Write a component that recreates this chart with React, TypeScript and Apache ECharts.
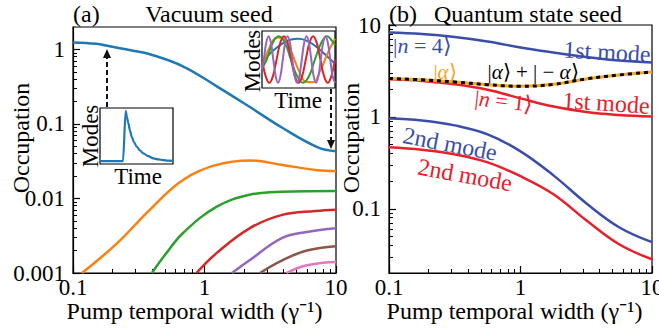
import React, { useEffect, useRef } from 'react';
import * as echarts from 'echarts';

// ---------- (a) Vacuum seed: occupation of modes 1..7 ----------
const vacX1 = [0.1, 0.15, 0.19, 0.28, 0.385, 0.69, 1.24, 2.2, 3.9, 7.2, 10];
const vacMode1 = [1.24, 1.19, 1.1, 0.97, 0.86, 0.59, 0.32, 0.17, 0.089, 0.049, 0.043];
const vacX2 = [0.117, 0.216, 0.385, 0.69, 1.24, 2.2, 3.9, 7.2, 10];
const vacMode2 = [0.001, 0.0025, 0.0071, 0.0178, 0.0282, 0.0324, 0.0282, 0.024, 0.0234];
const vacX3 = [0.398, 0.5, 0.69, 1.24, 2.2, 3.9, 10];
const vacMode3 = [0.001, 0.00174, 0.00347, 0.00776, 0.0112, 0.0123, 0.0126];
const vacX4 = [0.87, 1.24, 2.2, 3.9, 7, 10];
const vacMode4 = [0.001, 0.00186, 0.00398, 0.00603, 0.0068, 0.00708];
const vacX5 = [1.62, 2.2, 3.9, 6, 10];
const vacMode5 = [0.001, 0.00148, 0.00295, 0.00355, 0.00398];
const vacX6 = [2.64, 3.9, 6, 10];
const vacMode6 = [0.001, 0.00148, 0.002, 0.00229];
const vacX7 = [4.2, 5, 6, 8, 10];
const vacMode7 = [0.001, 0.00115, 0.00127, 0.00137, 0.0014];

// ---------- (b) Quantum state seed ----------
const qX = [0.1, 0.178, 0.316, 0.562, 1, 1.78, 3.16, 5.62, 10];
const qN4First = [8.28, 7.98, 7.41, 6.62, 5.69, 5.02, 4.49, 4.11, 3.91];
const qN1First = [2.56, 2.46, 2.26, 1.97, 1.59, 1.3, 1.13, 1.05, 1.01];
const qCat = [2.62, 2.53, 2.4, 2.24, 2.15, 2.26, 2.59, 2.86, 3.08];
const qN4Second = [0.963, 0.916, 0.808, 0.645, 0.422, 0.231, 0.115, 0.063, 0.0433];
const qN1Second = [0.466, 0.438, 0.391, 0.32, 0.226, 0.144, 0.075, 0.0411, 0.0282];

// ---------- insets ----------
const pulseT = [0, 0.1, 0.2, 0.3, 0.315, 0.352, 0.37, 0.388, 0.41, 0.434, 0.465, 0.503, 0.545, 0.593, 0.66, 0.73, 0.8, 0.867, 0.93, 1.0];
const pulseV = [0.05, 0.05, 0.05, 0.05, 0.05, 0.95, 0.83, 0.73, 0.6, 0.49, 0.39, 0.31, 0.245, 0.19, 0.14, 0.1, 0.082, 0.07, 0.06, 0.055];
const osc1T = [0, 0.1, 0.2, 0.3, 0.4, 0.5, 0.6, 0.7, 0.8, 0.9, 1];
const osc1V = [-0.1, 0.2, 0.45, 0.65, 0.77, 0.8, 0.74, 0.58, 0.36, 0.1, -0.15];
const osc2T = [0, 0.1, 0.2, 0.3, 0.4, 0.5, 0.6, 0.7, 0.8, 0.9, 1];
const osc2V = [-0.3, 0.45, 0.85, 0.8, 0.3, -0.4, -0.86, -0.88, -0.42, 0.25, 0.8];
const osc3T = [0, 0.065, 0.145, 0.23, 0.315, 0.395, 0.48, 0.56, 0.645, 0.725, 0.81, 0.89, 0.975, 1];
const osc3V = [-0.35, 0, 0.64, 0.9, 0.64, 0, -0.64, -0.9, -0.64, 0, 0.64, 0.9, 0.66, 0.55];
const osc4T = [0, 0.05, 0.1, 0.15, 0.2, 0.25, 0.3, 0.35, 0.4, 0.45, 0.5, 0.55, 0.6, 0.65, 0.7, 0.75, 0.8, 0.85, 0.9, 0.95, 1];
const osc4V = [0, -0.64, -0.9, -0.64, 0, 0.64, 0.9, 0.64, 0, -0.64, -0.9, -0.64, 0, 0.64, 0.9, 0.64, 0, -0.64, -0.9, -0.64, 0];
const osc5T = [0, 0.025, 0.0575, 0.09, 0.1225, 0.155, 0.1875, 0.22, 0.2525, 0.285, 0.3175, 0.35, 0.3825, 0.415, 0.4475, 0.48, 0.5125, 0.545, 0.5775, 0.61, 0.6425, 0.675, 0.7075, 0.74, 0.7725, 0.805, 0.8375, 0.87, 0.9025, 0.935, 0.9675, 1];
const osc5V = [-0.38, 0, 0.64, 0.9, 0.64, 0, -0.64, -0.9, -0.64, 0, 0.64, 0.9, 0.64, 0, -0.64, -0.9, -0.64, 0, 0.64, 0.9, 0.64, 0, -0.64, -0.9, -0.64, 0, 0.64, 0.9, 0.64, 0, -0.64, -0.9];

// ---------- ticks ----------
const xLabels = [0.1, 1, 10];
const xMinor = [0.2, 0.3, 0.4, 0.5, 0.6, 0.7, 0.8, 0.9, 2, 3, 4, 5, 6, 7, 8, 9];
const yLabelsA = [0.001, 0.01, 0.1, 1];
const yMinorA = [0.002, 0.003, 0.004, 0.005, 0.006, 0.007, 0.008, 0.009, 0.02, 0.03, 0.04, 0.05, 0.06, 0.07, 0.08, 0.09, 0.2, 0.3, 0.4, 0.5, 0.6, 0.7, 0.8, 0.9];
const yLabelsB = [0.1, 1, 10];
const yMinorB = [0.03, 0.04, 0.05, 0.06, 0.07, 0.08, 0.09, 0.2, 0.3, 0.4, 0.5, 0.6, 0.7, 0.8, 0.9, 2, 3, 4, 5, 6, 7, 8, 9];

const FONT = 'Liberation Serif';
const TAB = ['#1f77b4', '#ff7f0e', '#2ca02c', '#d62728', '#9467bd', '#8c564b', '#e377c2'];
const BLUE = '#3a4dab';
const RED = '#e8202a';
const GOLD = '#f4a51c';

const pairs = (xs: number[], ys: number[]) => xs.map((x, i) => [x, ys[i]]);
const fmt = (v: number) => String(+v.toPrecision(6));

function majorAxis(gridIndex: number, min: number, max: number, labels: number[], isX: boolean, extra: any) {
  return {
    type: 'log', logBase: 10, gridIndex, min, max,
    position: isX ? 'bottom' : 'left',
    axisLine: { show: true, lineStyle: { color: '#000', width: 1.2 } },
    axisTick: { show: true, inside: true, length: 7, customValues: labels, lineStyle: { color: '#000', width: 1.2 } },
    axisLabel: { show: true, customValues: labels, formatter: (v: number) => fmt(v), color: '#000', fontFamily: FONT, fontSize: 23, margin: isX ? 3 : 8 },
    splitLine: { show: false },
    ...extra,
  };
}
function minorAxis(gridIndex: number, min: number, max: number, minors: number[], isX: boolean) {
  return {
    type: 'log', logBase: 10, gridIndex, min, max,
    position: isX ? 'bottom' : 'left',
    axisLine: { show: false },
    axisTick: { show: true, inside: true, length: 4, customValues: minors, lineStyle: { color: '#000', width: 1 } },
    axisLabel: { show: false },
    splitLine: { show: false },
  };
}
function insetAxis(gridIndex: number, min: number, max: number) {
  return { type: 'value', gridIndex, min, max, show: false, splitLine: { show: false } };
}

const xName = (pad: number) => ({
  name: 'Pump temporal width (γ⁻¹)', nameLocation: 'middle', nameGap: 26, nameMoveOverlap: false,
  nameTextStyle: { color: '#000', fontFamily: FONT, fontSize: 24, padding: [0, pad, 0, 0] },
});

function lineSeries(xi: number, data: number[][], color: string, width: number, extra: any = {}) {
  return {
    type: 'line', xAxisIndex: xi, yAxisIndex: xi, data, showSymbol: false, symbol: 'none',
    smooth: 0.4, clip: true, lineStyle: { color, width }, emphasis: { disabled: true }, silent: true, ...extra,
  };
}

function txt(x: number, y: number, text: string, color: string, fontSize: number, extra: any = {}, styleExtra: any = {}) {
  return {
    type: 'text', x, y, ...extra,
    style: { text, fill: color, fontFamily: FONT, fontSize, align: 'center', verticalAlign: 'middle', ...styleExtra },
  };
}

function buildOption() {
  const gridBase = { show: true, borderColor: '#000', borderWidth: 1.2, containLabel: false, outerBoundsMode: 'none' };
  const it = (fill: string, size: number) => ({ it: { fontStyle: 'italic', fontFamily: FONT, fontSize: size, fill } });
  const dash = { stroke: '#111', lineWidth: 2, lineDash: [5, 3] };
  return {
    animation: false,
    backgroundColor: '#fff',
    textStyle: { fontFamily: FONT },
    grid: [
      { ...gridBase, left: 73, top: 27, width: 263, height: 246 },
      { ...gridBase, left: 389, top: 25, width: 263, height: 248 },
      { ...gridBase, left: 100, top: 108, width: 73, height: 56, backgroundColor: '#fff', z: 5 },
      { ...gridBase, left: 262, top: 31, width: 73, height: 57, backgroundColor: '#fff', z: 5 },
    ],
    xAxis: [
      majorAxis(0, 0.1, 10, xLabels, true, xName(20)),
      minorAxis(0, 0.1, 10, xMinor, true),
      majorAxis(1, 0.1, 10, xLabels, true, xName(12)),
      minorAxis(1, 0.1, 10, xMinor, true),
      insetAxis(2, 0, 1),
      insetAxis(3, 0, 1),
    ],
    yAxis: [
      majorAxis(0, 0.001, 2, yLabelsA, false, {}),
      minorAxis(0, 0.001, 2, yMinorA, false),
      majorAxis(1, 0.02, 10, yLabelsB, false, {}),
      minorAxis(1, 0.02, 10, yMinorB, false),
      insetAxis(2, 0, 1),
      insetAxis(3, -1.1, 1.1),
    ],
    series: [
      lineSeries(0, pairs(vacX7, vacMode7), TAB[6], 2.5),
      lineSeries(0, pairs(vacX6, vacMode6), TAB[5], 2.5),
      lineSeries(0, pairs(vacX5, vacMode5), TAB[4], 2.5),
      lineSeries(0, pairs(vacX4, vacMode4), TAB[3], 2.5),
      lineSeries(0, pairs(vacX3, vacMode3), TAB[2], 2.5),
      lineSeries(0, pairs(vacX2, vacMode2), TAB[1], 2.5),
      lineSeries(0, pairs(vacX1, vacMode1), TAB[0], 2.5),
      lineSeries(2, pairs(qX, qN4First), BLUE, 2.5),
      lineSeries(2, pairs(qX, qN1First), RED, 2.5),
      lineSeries(2, pairs(qX, qN4Second), BLUE, 2.5),
      lineSeries(2, pairs(qX, qN1Second), RED, 2.5),
      lineSeries(2, pairs(qX, qCat), GOLD, 3),
      lineSeries(2, pairs(qX, qCat), '#000', 3, { lineStyle: { color: '#000', width: 3, type: [4, 4] } }),
      lineSeries(4, pairs(pulseT, pulseV), TAB[0], 2.2, { smooth: 0.3, smoothMonotone: 'x', z: 6 }),
      lineSeries(5, pairs(osc1T, osc1V), TAB[0], 2, { z: 6 }),
      lineSeries(5, pairs(osc2T, osc2V), TAB[1], 2, { z: 6 }),
      lineSeries(5, pairs(osc3T, osc3V), TAB[2], 2, { z: 6 }),
      lineSeries(5, pairs(osc4T, osc4V), TAB[3], 2, { z: 6 }),
      lineSeries(5, pairs(osc5T, osc5V), TAB[4], 2, { z: 6 }),
    ],
    graphic: [
      txt(73, 14, '(a)', '#000', 24, {}, { align: 'left' }),
      txt(209, 14, 'Vacuum seed', '#000', 24),
      txt(389, 14, '(b)', '#000', 24, {}, { align: 'left' }),
      txt(528, 14, 'Quantum state seed', '#000', 24),
      txt(21, 138, 'Occupation', '#000', 24, { rotation: Math.PI / 2 }),
      txt(351, 138, 'Occupation', '#000', 24, { rotation: Math.PI / 2 }),
      // inset labels
      txt(90, 136, 'Modes', '#000', 23, { rotation: Math.PI / 2 }),
      txt(138, 176, 'Time', '#000', 23),
      txt(252, 61, 'Modes', '#000', 23, { rotation: Math.PI / 2 }),
      txt(298, 100, 'Time', '#000', 23),
      // arrows
      { type: 'line', shape: { x1: 107, y1: 107, x2: 107, y2: 57 }, style: dash, z: 10 },
      { type: 'polygon', shape: { points: [[107, 49], [103, 58], [111, 58]] }, style: { fill: '#111' }, z: 10 },
      { type: 'line', shape: { x1: 331, y1: 89, x2: 331, y2: 141 }, style: dash, z: 10 },
      { type: 'polygon', shape: { points: [[331, 149], [327, 140], [335, 140]] }, style: { fill: '#111' }, z: 10 },
      // panel (b) labels
      txt(393, 45, '|{it|n} = 4⟩', BLUE, 22, {}, { align: 'left', rich: it(BLUE, 22) }),
      txt(607, 52, '1st mode', BLUE, 24, { rotation: -0.055 }),
      txt(445, 72, '|{it|α}⟩', GOLD, 21, {}, { rich: it(GOLD, 21) }),
      txt(533, 72, '|{it|α}⟩ + | − {it|α}⟩', '#000', 21, {}, { rich: it('#000', 21) }),
      txt(504, 101, '|{it|n} = 1⟩', RED, 22, { rotation: -0.11 }, { rich: it(RED, 22) }),
      txt(606, 103, '1st mode', RED, 24, { rotation: -0.065 }),
      txt(450, 144, '2nd mode', BLUE, 24, { rotation: -0.19 }),
      txt(465, 175, '2nd mode', RED, 24, { rotation: -0.18 }),
    ],
  };
}

export default function App() {
  const ref = useRef<HTMLDivElement>(null);
  useEffect(() => {
    if (!ref.current) return;
    const chart = echarts.init(ref.current, null, { renderer: 'svg' });
    chart.setOption(buildOption() as any);
    return () => chart.dispose();
  }, []);
  return (
    <div
      ref={ref}
      style={{ position: 'fixed', left: 0, top: 0, width: 659, height: 333, background: '#fff' }}
    />
  );
}
